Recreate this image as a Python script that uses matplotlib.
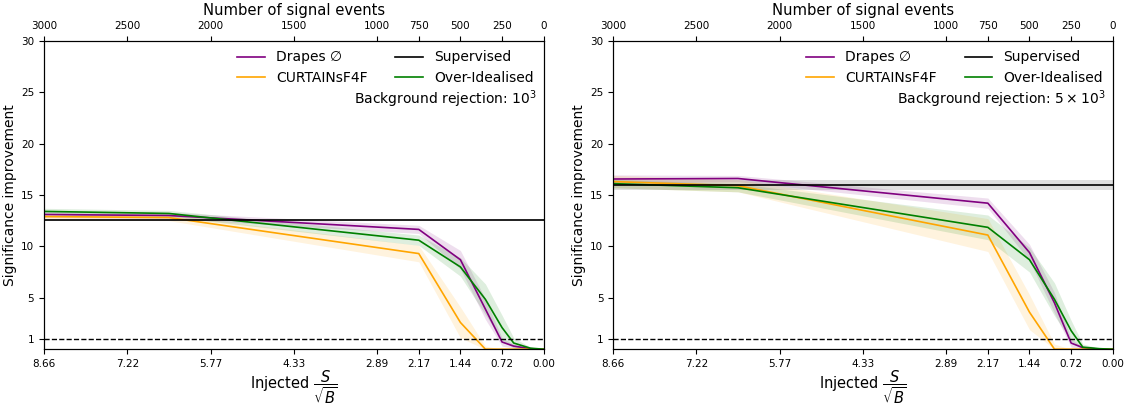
import numpy as np
import matplotlib.pyplot as plt

# signal events injected (background ~120k events -> sqrt(B) ~ 346.4)
n_background = 120000
x_events = [3000, 2250, 750, 500, 350, 250, 180, 80, 0]
tick_events = [3000, 2500, 2000, 1500, 1000, 750, 500, 250, 0]
y_ticks = [1, 5, 10, 15, 20, 25, 30]

# background rejection 10^3
drapes_1 = [13.1, 13.0, 11.65, 8.7, 3.9, 0.7, 0.3, 0.05, 0.0]
drapes_1_err = [0.3, 0.3, 0.4, 0.9, 1.0, 0.4, 0.2, 0.05, 0.0]
curtains_1 = [12.9, 12.8, 9.3, 2.6, 0.0, 0.0, 0.0, 0.0, 0.0]
curtains_1_err = [0.3, 0.3, 0.8, 1.5, 0.3, 0.0, 0.0, 0.0, 0.0]
ideal_1 = [13.4, 13.2, 10.6, 8.0, 4.85, 2.1, 0.6, 0.1, 0.0]
ideal_1_err = [0.3, 0.3, 0.5, 0.9, 1.5, 1.2, 0.5, 0.1, 0.0]
supervised_1 = 12.6
supervised_1_err = 0.1

# background rejection 5 x 10^3
drapes_5 = [16.55, 16.6, 14.2, 9.4, 4.5, 0.6, 0.15, 0.0, 0.0]
drapes_5_err = [0.4, 0.3, 0.5, 0.8, 1.0, 0.4, 0.1, 0.0, 0.0]
curtains_5 = [16.3, 15.9, 11.1, 3.6, 0.0, 0.0, 0.0, 0.0, 0.0]
curtains_5_err = [0.6, 0.6, 1.6, 1.7, 0.5, 0.0, 0.0, 0.0, 0.0]
ideal_5 = [16.1, 15.7, 11.85, 8.7, 4.85, 1.8, 0.2, 0.05, 0.0]
ideal_5_err = [0.4, 0.4, 1.2, 1.2, 1.6, 1.0, 0.3, 0.05, 0.0]
supervised_5 = 16.0
supervised_5_err = 0.5


def draw_panel(ax, series, supervised, supervised_err, rejection_label):
    x = np.array(x_events)
    for label, y, err, color in series:
        y = np.array(y)
        err = np.array(err)
        ax.plot(x, y, color=color, lw=1.2, label=label)
        ax.fill_between(x, np.clip(y - err, 0, None), y + err, color=color,
                        alpha=0.13, lw=0)
    ax.axhline(supervised, color="black", lw=1.2, label="Supervised")
    ax.axhspan(supervised - supervised_err, supervised + supervised_err,
               color="grey", alpha=0.25, lw=0)
    ax.axhline(1, color="black", ls="--", lw=1.0)

    ax.set_xlim(3000, 0)
    ax.set_ylim(0, 30)
    ax.set_yticks(y_ticks)
    ax.set_xticks(tick_events)
    ax.set_xticklabels([f"{n / np.sqrt(n_background):.2f}" for n in tick_events])
    ax.tick_params(labelsize=7.5)
    ax.set_xlabel(r"Injected $\dfrac{S}{\sqrt{B}}$", fontsize=10.5, labelpad=0)
    ax.set_ylabel("Significance improvement", fontsize=10, labelpad=3)

    top = ax.twiny()
    top.set_xlim(ax.get_xlim())
    top.set_xticks(tick_events)
    top.set_xticklabels([str(n) for n in tick_events])
    top.tick_params(labelsize=7.5)
    top.set_xlabel("Number of signal events", fontsize=10.6)

    # legend order: Drapes, CURTAINs, Supervised, Over-Idealised
    handles, labels = ax.get_legend_handles_labels()
    order = [0, 1, 3, 2]
    ax.legend([handles[i] for i in order], [labels[i] for i in order],
              ncol=2, frameon=False, loc="upper right", fontsize=10,
              borderaxespad=0.3, columnspacing=2.0, labelspacing=0.45)
    ax.text(0.985, 0.81, rejection_label, transform=ax.transAxes,
            ha="right", va="center", fontsize=10)


fig = plt.figure(figsize=(11.28, 4.07), dpi=100)
ax1 = fig.add_axes([0.039, 0.142, 0.443, 0.758])
ax2 = fig.add_axes([0.5435, 0.142, 0.443, 0.758])

draw_panel(ax1, [("Drapes ∅", drapes_1, drapes_1_err, "purple"),
                 ("CURTAINsF4F", curtains_1, curtains_1_err, "orange"),
                 ("Over-Idealised", ideal_1, ideal_1_err, "green")],
           supervised_1, supervised_1_err, r"Background rejection: $10^3$")
draw_panel(ax2, [("Drapes ∅", drapes_5, drapes_5_err, "purple"),
                 ("CURTAINsF4F", curtains_5, curtains_5_err, "orange"),
                 ("Over-Idealised", ideal_5, ideal_5_err, "green")],
           supervised_5, supervised_5_err, r"Background rejection: $5\times10^3$")

fig.savefig("out.png", dpi=100)
